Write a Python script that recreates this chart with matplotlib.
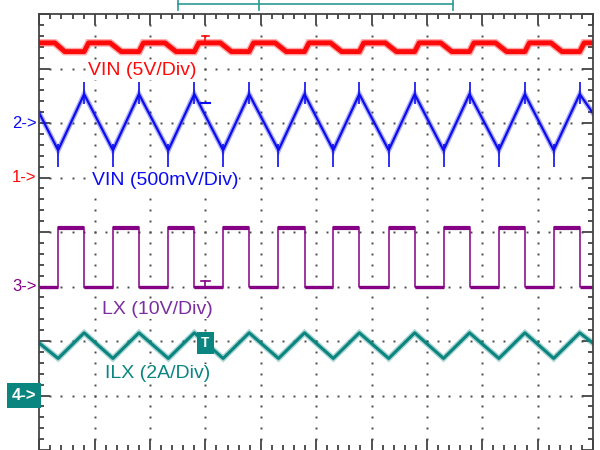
import numpy as np
import matplotlib.pyplot as plt
from matplotlib.transforms import blended_transform_factory


# switching cycle turning points, in horizontal divisions (10 div across)
peak_t = [0.81, 1.80, 2.80, 3.79, 4.79, 5.78, 6.78, 7.77, 8.77, 9.76]
valley_t = [0.34, 1.33, 2.33, 3.32, 4.32, 5.31, 6.31, 7.30, 8.30, 9.29]

# channel 2: VIN ripple (500mV/Div), in vertical divisions
vin_ac_ends = [6.18, 6.18]
vin_ac_peak = 6.53
vin_ac_valley = 5.50
vin_ac_spike_up = [6.35, 6.75]
vin_ac_spike_down = [5.20, 5.62]

# channel 4: ILX (2A/Div)
ilx_ends = [1.96, 1.96]
ilx_peak = 2.15
ilx_valley = 1.68

# channel 3: LX (10V/Div)
lx_high = 4.10
lx_low = 3.00

# channel 1: VIN (5V/Div)
vin_hi = 7.47
vin_lo = 7.31
vin_t = [0, 0.28, 0.46, 0.81, 0.89, 1.28, 1.48, 1.80, 1.88, 2.27, 2.47,
         2.80, 2.88, 3.27, 3.47, 3.79, 3.87, 4.26, 4.46, 4.79, 4.87,
         5.26, 5.46, 5.78, 5.86, 6.25, 6.45, 6.78, 6.86, 7.25, 7.45,
         7.77, 7.85, 8.24, 8.44, 8.77, 8.85, 9.24, 9.44, 9.76, 9.84, 10]
vin_v = [vin_hi, vin_hi, vin_lo] + [vin_lo, vin_hi, vin_hi, vin_lo] * 9 + [vin_lo, vin_hi, vin_hi]

labels = ["VIN (5V/Div)", "VIN (500mV/Div)", "LX (10V/Div)", "ILX (2A/Div)"]
markers = ["2->", "1->", "3->", "4->"]
marker_levels = [6, 5, 3, 1]
trigger_t = 3.0

RED = "#ff0a0a"
BLUE = "#0c0cf0"
PURPLE = "#850085"
PURPLE_TXT = "#7a2ea0"
TEAL = "#0a8580"


def interleave(a, b):
    out = []
    for u, v in zip(a, b):
        out += [u, v]
    return out


def trace(ax, x, y, color, lw, **kw):
    ax.plot(x, y, color=color, lw=lw + 2.0, alpha=0.35, solid_joinstyle="miter", **kw)
    ax.plot(x, y, color=color, lw=lw, **kw)


def main():
    plt.rcParams['font.family'] = ['Liberation Sans', 'DejaVu Sans']
    fig = plt.figure(figsize=(6, 4.5), dpi=100)
    left, right, top = 39.3, 593.0, 14.0
    ax = fig.add_axes([left / 600, 0, (right - left) / 600, (450 - top) / 450])
    ax.set_xlim(0, 10)
    ax.set_ylim(0, 8)

    # dotted graticule
    minor_x = np.arange(1, 50) / 5
    minor_y = np.arange(1, 40) / 5
    for gx in range(1, 10):
        ax.plot(np.full(minor_y.size, gx), minor_y, ls="none", marker="s",
                ms=1.4, mew=0, color="#4a4a4a")
    for gy in range(1, 8):
        ax.plot(minor_x, np.full(minor_x.size, gy), ls="none", marker="s",
                ms=1.4, mew=0, color="#4a4a4a")

    ax.set_xticks(range(11))
    ax.set_yticks(range(9))
    ax.set_xticks(minor_x, minor=True)
    ax.set_yticks(minor_y, minor=True)
    ax.tick_params(which="both", direction="in", top=True, right=True,
                   labelleft=False, labelbottom=False, color="#333333", width=1.2)
    ax.tick_params(which="major", length=8)
    ax.tick_params(which="minor", length=3.5)
    for side in ["left", "right", "top"]:
        ax.spines[side].set_color("#444444")
        ax.spines[side].set_linewidth(1.3)
    ax.spines["bottom"].set_visible(False)

    # channel labels (opaque, like the scope overlay)
    box = dict(boxstyle="square,pad=0.05", fc="white", ec="none")
    ax.text(0.88, 6.96, labels[0], color=RED, fontsize=14, va="center", bbox=box)
    ax.text(0.95, 4.95, labels[1], color=BLUE, fontsize=14, va="center", bbox=box)
    ax.text(1.13, 2.58, labels[2], color=PURPLE_TXT, fontsize=14, va="center", bbox=box)
    ax.text(1.19, 1.41, labels[3], color=TEAL, fontsize=14, va="center", bbox=box)

    # channel 1 VIN DC
    trace(ax, vin_t, vin_v, RED, 3.5)
    ax.plot([trigger_t - 0.07, trigger_t + 0.07], [7.60, 7.60], color=RED, lw=1.2)
    ax.plot([trigger_t, trigger_t], [7.60, 7.47], color=RED, lw=1.2)

    # channel 2 VIN ripple
    bt = [0] + interleave(valley_t, peak_t) + [10]
    bv = [vin_ac_ends[0]] + [vin_ac_valley, vin_ac_peak] * len(peak_t) + [vin_ac_ends[1]]
    trace(ax, bt, bv, BLUE, 1.6)
    ax.vlines(peak_t, vin_ac_spike_up[0], vin_ac_spike_up[1], color=BLUE, lw=1.2)
    ax.vlines(valley_t, vin_ac_spike_down[0], vin_ac_spike_down[1], color=BLUE, lw=1.2)
    ax.plot([trigger_t - 0.08, trigger_t + 0.08], [6.37, 6.37], color=BLUE, lw=1.5)

    # channel 3 LX: thin edges, noisy (thicker) plateaus
    pt = [0] + interleave(valley_t, peak_t) + [10]
    pv = [lx_low] + [lx_high, lx_low] * len(peak_t) + [lx_low]
    ax.plot(pt, pv, color=PURPLE, lw=1.1, drawstyle="steps-post")
    ax.hlines([lx_high - 0.02] * len(peak_t), valley_t, peak_t, color=PURPLE, lw=3.0)
    ax.hlines([lx_low] * (len(peak_t) + 1), [0] + peak_t, valley_t + [10],
              color=PURPLE, lw=2.4)
    ax.plot([trigger_t - 0.08, trigger_t + 0.08], [3.11, 3.11], color=PURPLE, lw=1.2)
    ax.plot([trigger_t, trigger_t], [3.11, 3.0], color=PURPLE, lw=1.2)

    # channel 4 ILX
    tt = [0] + interleave(valley_t, peak_t) + [10]
    tv = [ilx_ends[0]] + [ilx_valley, ilx_peak] * len(peak_t) + [ilx_ends[1]]
    trace(ax, tt, tv, TEAL, 2.2)
    ax.text(trigger_t, 1.96, "T", ha="center", va="center", color="white",
            fontsize=10, fontweight="bold",
            bbox=dict(boxstyle="square,pad=0.3", fc=TEAL, ec="none"))

    # ground markers on the left
    tr = blended_transform_factory(fig.transFigure, ax.transData)
    colors = [BLUE, RED, PURPLE, "white"]
    for name, lvl, c in zip(markers, marker_levels, colors):
        if name == "4->":
            ax.text(36 / 600, lvl, name, transform=tr, ha="right", va="center",
                    color=c, fontsize=12, fontweight="bold", clip_on=False,
                    bbox=dict(boxstyle="square,pad=0.3", fc=TEAL, ec="none"))
        else:
            ax.text(12 / 600, lvl, name, transform=tr, ha="left", va="center",
                    color=c, fontsize=12, clip_on=False)

    # record window bracket above the screen
    ax.plot([2.505, 7.47], [8.18, 8.18], color="#2a9a94", lw=1.2, clip_on=False)
    for bx in [2.505, 3.97, 7.47]:
        ax.plot([bx, bx], [8.26, 8.07], color="#2a9a94", lw=1.2, clip_on=False)

    fig.savefig("out.png", dpi=100)


if __name__ == '__main__':
    main()
